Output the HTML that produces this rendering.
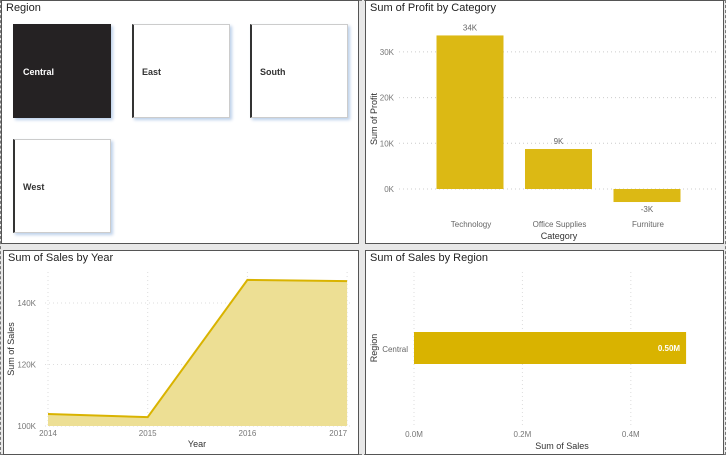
<!DOCTYPE html>
<html><head><meta charset="utf-8"><style>
body{margin:0;width:726px;height:455px;background:#e8e8e8;position:relative;overflow:hidden;font-family:"Liberation Sans",sans-serif;}
.pg{position:absolute;left:0;top:0;width:724px;height:453px;border:1px dashed #777;}
.panel{position:absolute;background:#fff;border:1px solid #555;box-sizing:border-box;}
.title{position:absolute;left:4px;top:1px;font-size:11px;color:#222;}
.tile{position:absolute;width:98px;height:94px;box-sizing:border-box;background:#fff;border:1px solid #ccc;border-left:2px solid #333;box-shadow:2px 2px 3px #bcd0ea;font-size:9px;font-weight:bold;color:#333;}
.tile span{position:absolute;left:8px;top:42px;}
svg{position:absolute;left:0;top:0;}
text{font-family:"Liberation Sans",sans-serif;}
</style></head><body>
<div class="pg"></div>

<div class="panel" style="left:1px;top:0;width:358px;height:244px">
<div class="title">Region</div>
<div class="tile" style="left:11px;top:23px;background:#252223;border-color:#252223;color:#fff"><span>Central</span></div>
<div class="tile" style="left:130px;top:23px"><span>East</span></div>
<div class="tile" style="left:248px;top:23px"><span>South</span></div>
<div class="tile" style="left:11px;top:138px"><span>West</span></div>
</div>

<div class="panel" style="left:365px;top:0;width:359px;height:244px">
<div class="title">Sum of Profit by Category</div></div>
<div class="panel" style="left:3px;top:250px;width:356px;height:205px">
<div class="title">Sum of Sales by Year</div></div>
<div class="panel" style="left:365px;top:250px;width:359px;height:205px">
<div class="title">Sum of Sales by Region</div></div>

<svg id="s" width="726" height="455"></svg>
<script>
const profitCats=["Technology","Office Supplies","Furniture"];
const profitVals=[33.6,8.75,-2.85];
const profitLabels=["34K","9K","-3K"];
const profitTicks=[0,10,20,30];
const years=[2014,2015,2016,2017];
const salesVals=[103.9,102.9,147.5,147.1];
const salesTicks=[100,120,140];
const regions=["Central"];
const regionVals=[0.502];
const regionLabels=["0.50M"];
const regionTicks=[0,0.2,0.4];

const s=document.getElementById('s');const NS="http://www.w3.org/2000/svg";
function el(t,a,txt){const e=document.createElementNS(NS,t);for(const k in a)e.setAttribute(k,a[k]);if(txt!==undefined)e.textContent=txt;s.appendChild(e);return e;}
const G="#999",D="2,3";
// profit chart
const py=v=>189-v*4.57;
for(const t of profitTicks){const g=el('line',{x1:399,x2:718,y1:py(t),y2:py(t),stroke:"#ccc","stroke-dasharray":"1,3"});

const l=el('text',{x:394,y:py(t)+3,"font-size":8,fill:"#777","text-anchor":"end"},t+"K");
}
profitCats.forEach((c,i)=>{const cx=470+i*88.5,v=profitVals[i];const y0=py(Math.max(v,0)),y1=py(Math.min(v,0));
const b=el('rect',{x:cx-33.5,y:y0,width:67,height:y1-y0,fill:"#dcb914"});

const lb=el('text',{x:cx,y:v>=0?y0-5:y1+10,"font-size":8,fill:"#666","text-anchor":"middle"},profitLabels[i]);

const cl=el('text',{x:cx+1,y:227,"font-size":8,fill:"#666","text-anchor":"middle"},c);
});
let t1=el('text',{x:559,y:239,"font-size":9,fill:"#333","text-anchor":"middle"},"Category");

let t2=el('text',{x:0,y:0,"font-size":9,fill:"#333","text-anchor":"middle",transform:"translate(377,119) rotate(-90)"},"Sum of Profit");


// sales by year
const sx=i=>48+i*99.7, sy=v=>426-(v-100)*3.075;
years.forEach((y,i)=>{const g=el('line',{x1:sx(i),x2:sx(i),y1:272,y2:426,stroke:"#ddd","stroke-dasharray":"1,3"});

const l=el('text',{x:sx(i),y:436,"font-size":8,fill:"#777","text-anchor":i==3?"end":"middle"},y);
});
for(const t of salesTicks){const g=el('line',{x1:45,x2:350,y1:sy(t),y2:sy(t),stroke:"#ddd","stroke-dasharray":"1,3"});

const l=el('text',{x:36,y:sy(t)+3,"font-size":8,fill:"#777","text-anchor":"end"},t+"K");
}
let pts=salesVals.map((v,i)=>sx(i)+","+sy(v)).join(" ");
const ar=el('polygon',{points:sx(0)+","+sy(100)+" "+pts+" "+sx(3)+","+sy(100),fill:"#eddf94"});

const ln=el('polyline',{points:pts,fill:"none",stroke:"#d9b300","stroke-width":2});

let t3=el('text',{x:197,y:447,"font-size":9,fill:"#333","text-anchor":"middle"},"Year");

let t4=el('text',{x:0,y:0,"font-size":9,fill:"#333","text-anchor":"middle",transform:"translate(14,349) rotate(-90)"},"Sum of Sales");


// sales by region
const rx=v=>414+v*542;
for(const t of regionTicks){const g=el('line',{x1:rx(t),x2:rx(t),y1:272,y2:425,stroke:"#ddd","stroke-dasharray":"1,3"});

const l=el('text',{x:rx(t),y:437,"font-size":8,fill:"#777","text-anchor":"middle"},t.toFixed(1)+"M");
}
regions.forEach((r,i)=>{const b=el('rect',{x:rx(0),y:332,width:rx(regionVals[i])-rx(0),height:32,fill:"#d9b300"});

const l=el('text',{x:rx(regionVals[i])-6,y:351,"font-size":8,fill:"#fff","font-weight":"bold","text-anchor":"end"},regionLabels[i]);

const c=el('text',{x:408,y:352,"font-size":8,fill:"#666","text-anchor":"end"},r);
});
let t5=el('text',{x:562,y:449,"font-size":9,fill:"#333","text-anchor":"middle"},"Sum of Sales");

let t6=el('text',{x:0,y:0,"font-size":9,fill:"#333","text-anchor":"middle",transform:"translate(377,348) rotate(-90)"},"Region");

</script>
</body></html>
